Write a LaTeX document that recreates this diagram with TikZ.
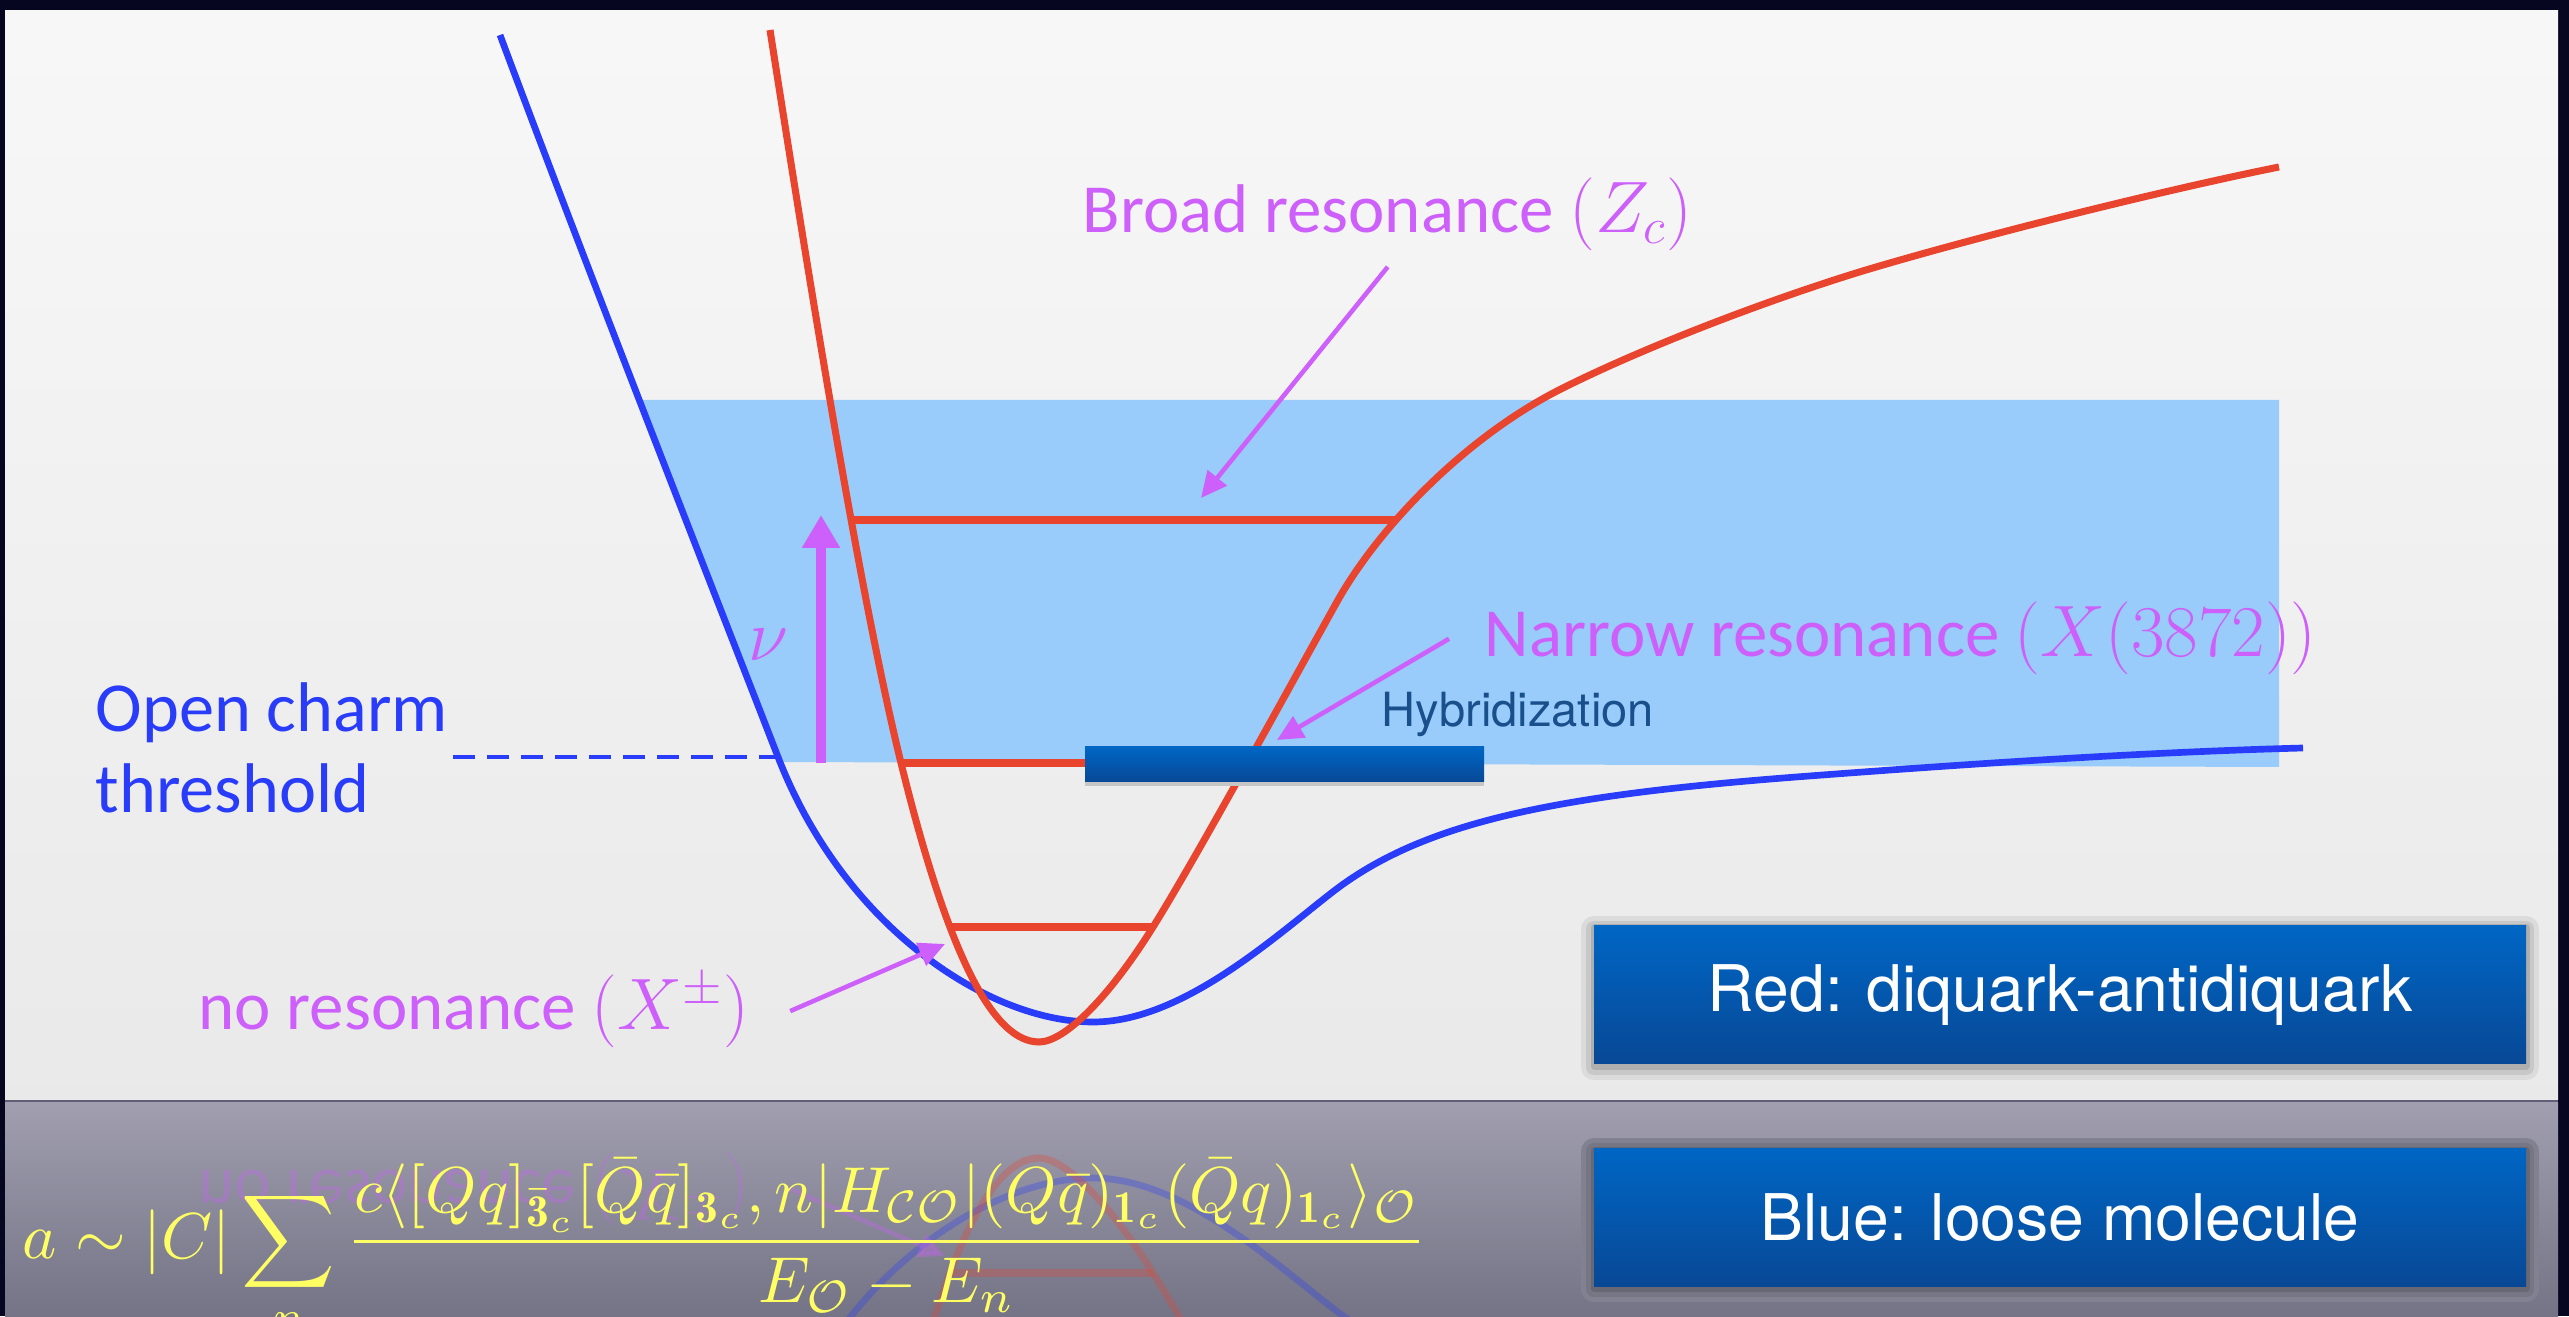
\documentclass[tikz,border=0pt]{standalone}
\usepackage{fontspec}
\usepackage{amsmath}
\usepackage{graphicx}
\newfontfamily\labelfont{Carlito}
\newfontfamily\boxfont{TeX Gyre Heros}
\usetikzlibrary{arrows.meta,positioning}

\definecolor{frame}{RGB}{6,6,32}
\definecolor{floorline}{RGB}{98,94,118}
\definecolor{lowtop}{RGB}{160,158,175}
\definecolor{lowbottom}{RGB}{116,116,134}
\colorlet{panelbg}{gray!15}
\colorlet{floorbg}{lowtop!55!lowbottom}
\definecolor{molblue}{RGB}{40,60,250}
\definecolor{diqred}{RGB}{232,68,46}
\definecolor{bandblue}{RGB}{153,204,250}
\definecolor{resmag}{RGB}{205,95,250}
\definecolor{hybblue}{RGB}{25,80,140}
\definecolor{boxtop}{RGB}{0,102,196}
\definecolor{boxbottom}{RGB}{8,72,150}
\definecolor{formyellow}{RGB}{255,255,100}

% the two potential curves
\newcommand\molpath{(5.00,12.81) .. controls (5.9,10.4) and (7.0,7.6) .. (7.78,5.59) .. controls (8.45,3.87) and (9.9,2.94) .. (10.93,2.94) .. controls (11.8,2.94) and (12.7,3.75) .. (13.3,4.22) .. controls (14.2,4.93) and (15.5,5.2) .. (17.96,5.39) .. controls (19.8,5.53) and (21.5,5.64) .. (23.03,5.68)}
\newcommand\diqpath{(7.70,12.86) .. controls (8.1,10.3) and (8.6,7.2) .. (9.01,5.53) .. controls (9.4,3.95) and (9.85,2.74) .. (10.39,2.74) .. controls (10.65,2.74) and (11.1,3.2) .. (11.53,3.89) .. controls (11.95,4.56) and (12.9,6.3) .. (13.38,7.16) .. controls (13.8,7.9) and (14.65,8.78) .. (15.59,9.26) .. controls (16.5,9.72) and (17.8,10.2) .. (18.66,10.46) .. controls (19.8,10.8) and (21.6,11.25) .. (22.79,11.49)}

\begin{document}
\begin{tikzpicture}[
    >=Stealth,
    mol/.style={molblue,line width=1.9pt},
    diq/.style={diqred,line width=2pt},
    level/.style={diqred,line width=2pt},
    pointer/.style={resmag,line width=1.3pt,-{Triangle[length=.26cm,width=.24cm]}},
    reslabel/.style={font=\labelfont\fontsize{19.6}{24}\selectfont,text=resmag,inner sep=0pt,anchor=base west},
    softshadow/.style={
        preaction={draw=#1!93!black,line width=.26cm,line join=round,transform canvas={yshift=-.03cm}},
        preaction={draw=#1!85!black,line width=.16cm,line join=round,transform canvas={yshift=-.03cm}},
        preaction={draw=#1!74!black,line width=.07cm,line join=round,transform canvas={yshift=-.02cm}}},
    legend/.style={minimum width=9.32cm,minimum height=1.38cm,inner sep=0pt,top color=boxtop,bottom color=boxbottom,
        text=white,font=\boxfont\fontsize{18.3}{22}\selectfont},
    ]
    \clip (0,0) rectangle (25.69,13.16);
    % slide and reflection floor
    \fill[frame] (0,0) rectangle (25.69,13.16);
    \fill[floorline] (.05,2.13) rectangle (25.58,2.17);
    \shade[top color=gray!6,bottom color=gray!17] (.05,2.17) rectangle (25.58,13.05);
    \shade[top color=lowtop,bottom color=lowbottom] (.05,0) rectangle (25.58,2.13);

    % reflection
    \begin{scope}
        \clip (.05,0) rectangle (25.58,2.13);
        \begin{scope}[yshift=4.32cm,yscale=-1,opacity=.3]
            \draw[mol] \molpath;
            \begin{scope}
                \clip \diqpath -- cycle;
                \draw[level] (9,3.89) -- (12,3.89);
            \end{scope}
            \draw[diq] \diqpath;
            \node[reslabel,transform shape] (noresmirror) at (1.98,2.86) {no resonance $(X^{\pm})$};
            \coordinate (lowtipmirror) at (9.45,3.72);
            \draw[pointer] ([xshift=.4cm]noresmirror.east) -- (lowtipmirror);
        \end{scope}
    \end{scope}

    % band above threshold
    \fill[bandblue] (6.37,9.16) -- (22.79,9.16) -- (22.79,5.49) -- (7.78,5.54) -- cycle;

    \node[font=\labelfont\fontsize{20}{23}\selectfont,text=molblue,align=left,anchor=west,inner sep=0pt] (open) at (.95,5.68) {Open charm\\threshold};
    \coordinate (thrA) at (4.53,5.59);
    \coordinate (thrB) at (7.86,5.59);
    \draw[molblue,line width=1.2pt,dash pattern=on .22cm off .12cm] (thrA) -- (thrB);

    \draw[mol] \molpath;
    % levels, cut by the red well
    \begin{scope}
        \clip \diqpath -- cycle;
        \draw[level] (8,7.96) -- (15,7.96);
        \draw[level] (8,5.53) -- (12.9,5.53);
        \draw[level] (9,3.89) -- (12,3.89);
    \end{scope}
    \draw[diq] \diqpath;

    % nu
    \coordinate (nufoot) at (8.21,5.53);
    \coordinate (nuhead) at (8.21,8.01);
    \draw[resmag,line width=3pt,-{Triangle[length=.33cm,width=.36cm]}] (nufoot) -- (nuhead);
    \node[text=resmag,font=\fontsize{22}{26}\selectfont,inner sep=0pt] (nu) at (7.68,6.71) {$\nu$};

    % hybridization
    \node[top color=boxtop,bottom color=boxbottom,minimum width=3.99cm,minimum height=.35cm,inner sep=0pt,
        preaction={fill=gray!45,transform canvas={yshift=-.04cm}}] (hybbar) at (12.845,5.515) {};
    \node[font=\boxfont\fontsize{13.4}{16}\selectfont,text=hybblue,anchor=base west,inner sep=0pt] (hyb) at (13.81,5.89) {Hybridization};

    % resonance labels
    \node[reslabel] (broad) at (10.82,10.83) {Broad resonance $(Z_c)$};
    \node[reslabel] (narrow) at (14.84,6.59) {Narrow resonance $(X(3872))$};
    \node[reslabel] (nores) at (1.98,2.86) {no resonance $(X^{\pm})$};
    \coordinate (zctip) at (12.01,8.18);
    \coordinate (hybtip) at (12.77,5.76);
    \coordinate (lowtip) at (9.45,3.72);
    \draw[pointer] ([yshift=-.15cm]broad.south) -- (zctip);
    \draw[pointer] ([xshift=-.35cm]narrow.west) -- (hybtip);
    \draw[pointer] ([xshift=.4cm]nores.east) -- (lowtip);

    % legend
    \node[legend,softshadow=panelbg] (redbox) at (20.60,3.21) {Red: diquark-antidiquark};
    \node[legend,softshadow=floorbg,below=.83cm of redbox] (bluebox) {Blue: loose molecule};

    % amplitude
    \node[text=formyellow,anchor=base west,inner sep=0pt] (amp) at (.22,.58)
        {\resizebox{14.04cm}{.99cm}{$\displaystyle a\sim|C|\sum_n\frac{c\langle[Qq]_{\bar{\mathbf 3}_c}[\bar Q\bar q]_{\mathbf 3_c},n|H_{\mathcal{CO}}|(Q\bar q)_{\mathbf 1_c}(\bar Qq)_{\mathbf 1_c}\rangle_{\mathcal O}}{E_{\mathcal O}-E_n}$}};
\end{tikzpicture}
\end{document}
